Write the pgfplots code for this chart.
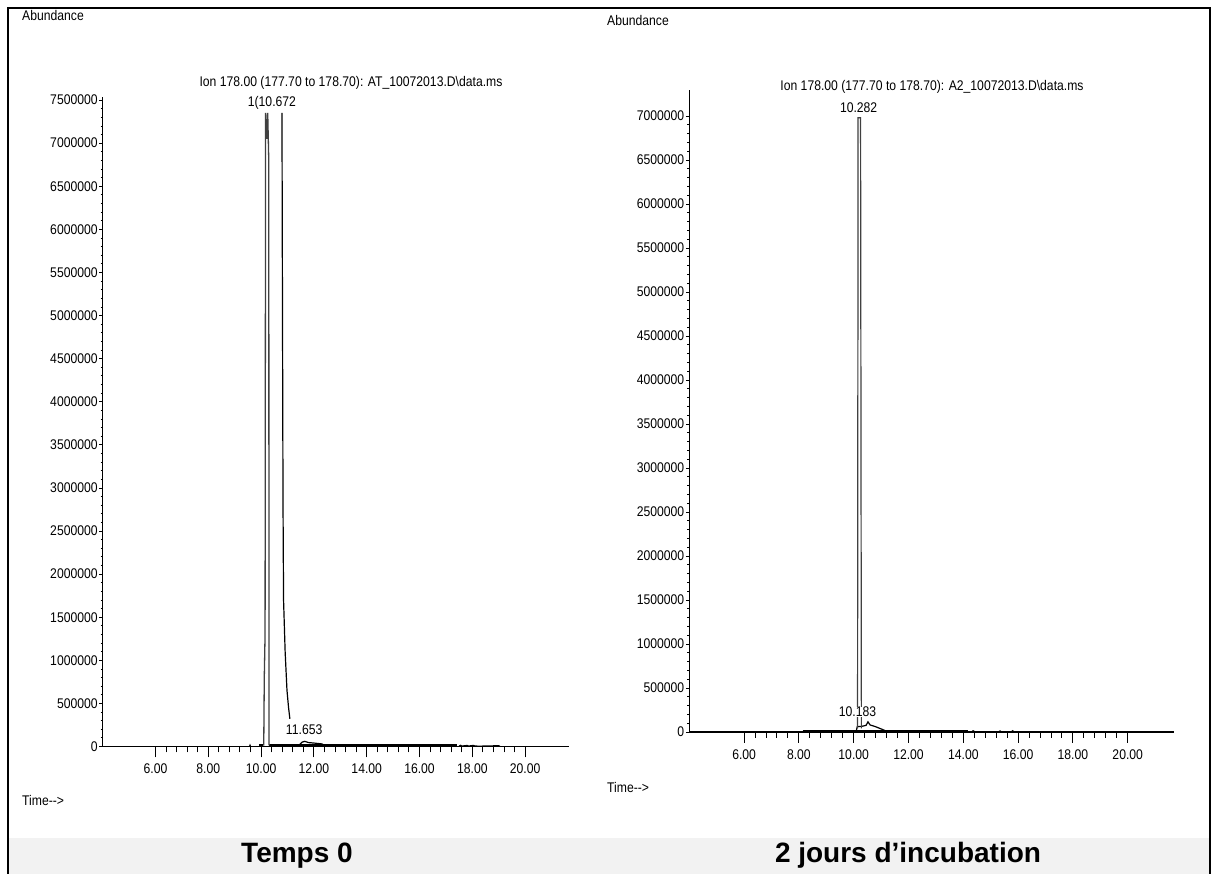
\documentclass[border=0pt]{standalone}
\usepackage{fontspec}
\setmainfont{Liberation Sans}
\newfontfamily\narrow[FakeStretch=0.87]{Liberation Sans}
\usepackage{pgfplots}
\pgfplotsset{compat=1.18}
\newcommand{\sm}{\narrow\fontsize{14pt}{16pt}\selectfont}
\pgfplotsset{
 chrombase/.style={
  scale only axis, clip=false, xmin=4, ymin=0,
  tick align=outside,
  axis line style={line width=1.4pt},
  tick label style={font=\sm},
  /pgf/number format/assume math mode=true,
  scaled y ticks=false, scaled x ticks=false,
 },
 chromx/.style={chrombase,
  axis x line*=bottom, axis y line=none,
  xtick={6,8,10,12,14,16,18,20}, minor x tick num=4,
  major tick length=11pt, minor tick length=6pt,
  xtick style={line width=1pt, black},
  xticklabel style={yshift=-3pt, /pgf/number format/.cd, fixed, fixed zerofill, precision=2},
 },
 chromy/.style={chrombase,
  axis y line*=left, axis x line=none,
  minor y tick num=4,
  major tick length=3.5pt, minor tick length=2pt,
  ytick style={line width=0.8pt, black},
  yticklabel style={xshift=2pt, /pgf/number format/.cd, fixed, precision=0, 1000 sep={}},
 },
}
\begin{document}
\begin{tikzpicture}[x=1pt,y=1pt]
\path[fill=white] (0pt,0pt) rectangle (1216pt,874pt);
\fill[gray!10] (8pt,0pt) rectangle (1210pt,36pt);
\draw[line width=2pt] (8pt,0pt) -- (8pt,866pt) -- (1210pt,866pt) -- (1210pt,0pt);

% ---------- left panel: Temps 0
\begin{axis}[chromy, at={(102.7pt,127.5pt)}, anchor=south west,
  width=466pt, height=649pt, xmax=21.65, ymax=7530000,
  ytick={0,500000,1000000,1500000,2000000,2500000,3000000,3500000,4000000,4500000,5000000,5500000,6000000,6500000,7000000,7500000}]
\end{axis}
\begin{axis}[chromx, at={(102.7pt,127.5pt)}, anchor=south west,
  width=466pt, height=649pt, xmax=21.65, ymax=7530000]
\addplot[black, line width=3pt] coordinates {(9.93,8000)(10.08,8000)};
\addplot[black, line width=3pt] coordinates {(10.30,8000)(17.42,8000)};
\addplot[black, line width=1.2pt] coordinates {(9.56,0)(9.58,15000)(9.60,0)};
\addplot[black, line width=1.2pt] coordinates {(17.50,5000)(17.56,14000)(17.60,5000)(17.80,12000)(17.86,5000)(18.05,13000)(18.10,5000)(18.30,4000)(19.00,9000)(19.04,3000)};
\addplot[black!75, line width=1.3pt] coordinates {(10.10,10000)(10.12,800000)(10.15,1300000)(10.17,7350000)(10.21,7050000)(10.25,7350000)(10.29,6800000)(10.30,20000)(10.32,15000)};
\addplot[black, line width=1.2pt] coordinates {(10.79,7350000)(10.81,5000000)(10.83,2800000)(10.85,1700000)(10.91,1100000)(10.98,650000)(11.04,450000)(11.09,320000)};
\addplot[black, line width=1.2pt] coordinates {(11.45,20000)(11.55,50000)(11.65,60000)(11.80,45000)(12.00,40000)(12.30,30000)(12.40,15000)};
\node[font=\sm, fill=white, inner sep=0.5pt] at (axis cs:10.41,7465000) {1(10.672};
\node[font=\sm, fill=white, inner sep=0.5pt] at (axis cs:11.63,190000) {11.653};
\end{axis}

% ---------- right panel: 2 jours
\begin{axis}[chromy, at={(689.3pt,142pt)}, anchor=south west,
  width=485pt, height=642.4pt, xmax=21.7, ymax=7300000,
  ytick={0,500000,1000000,1500000,2000000,2500000,3000000,3500000,4000000,4500000,5000000,5500000,6000000,6500000,7000000}]
\end{axis}
\begin{axis}[chromx, at={(689.3pt,142pt)}, anchor=south west,
  width=485pt, height=642.4pt, xmax=21.7, ymax=7300000]
\addplot[black, line width=3pt] coordinates {(8.14,8000)(14.18,8000)};
\addplot[black, line width=1.2pt] coordinates {(14.32,6000)(14.36,14000)(14.40,6000)};
\addplot[black, line width=1.2pt] coordinates {(15.30,4000)(15.34,12000)(15.38,4000)};
\addplot[black, line width=1.2pt] coordinates {(15.76,4000)(15.80,14000)(15.84,4000)};
\addplot[black, line width=1.2pt] coordinates {(10.10,20000)(10.13,60000)(10.30,65000)(10.45,75000)(10.52,115000)(10.60,80000)(10.80,60000)(11.00,35000)(11.15,15000)(11.20,10000)};
\addplot[black!75, line width=1.2pt] coordinates {(10.14,40000)(10.16,6980000)(10.25,6980000)(10.28,40000)};
\node[font=\sm, fill=white, inner sep=0.5pt] at (axis cs:10.18,7090000) {10.282};
\node[font=\sm, fill=white, inner sep=0.5pt] at (axis cs:10.14,227000) {10.183};
\end{axis}

% ---------- texts
\node[font=\sm, anchor=west, inner sep=0pt] at (22pt,858pt) {Abundance};
\node[font=\sm, anchor=west, inner sep=0pt] at (607pt,853pt) {Abundance};
\node[font=\sm, anchor=west, inner sep=0pt] at (22pt,74pt) {Time-->};
\node[font=\sm, anchor=west, inner sep=0pt] at (607pt,86pt) {Time-->};
\node[font=\sm, inner sep=0pt] at (351pt,791pt) {Ion 178.00 (177.70 to 178.70): AT\_10072013.D\textbackslash data.ms};
\node[font=\sm, inner sep=0pt] at (932pt,787pt) {Ion 178.00 (177.70 to 178.70): A2\_10072013.D\textbackslash data.ms};
\node[font=\bfseries\fontsize{28pt}{30pt}\selectfont, anchor=base, inner sep=0pt] at (297pt,11pt) {Temps 0};
\node[font=\bfseries\fontsize{28pt}{30pt}\selectfont, anchor=base, inner sep=0pt] at (908pt,11pt) {2 jours d’incubation};
\end{tikzpicture}
\end{document}
